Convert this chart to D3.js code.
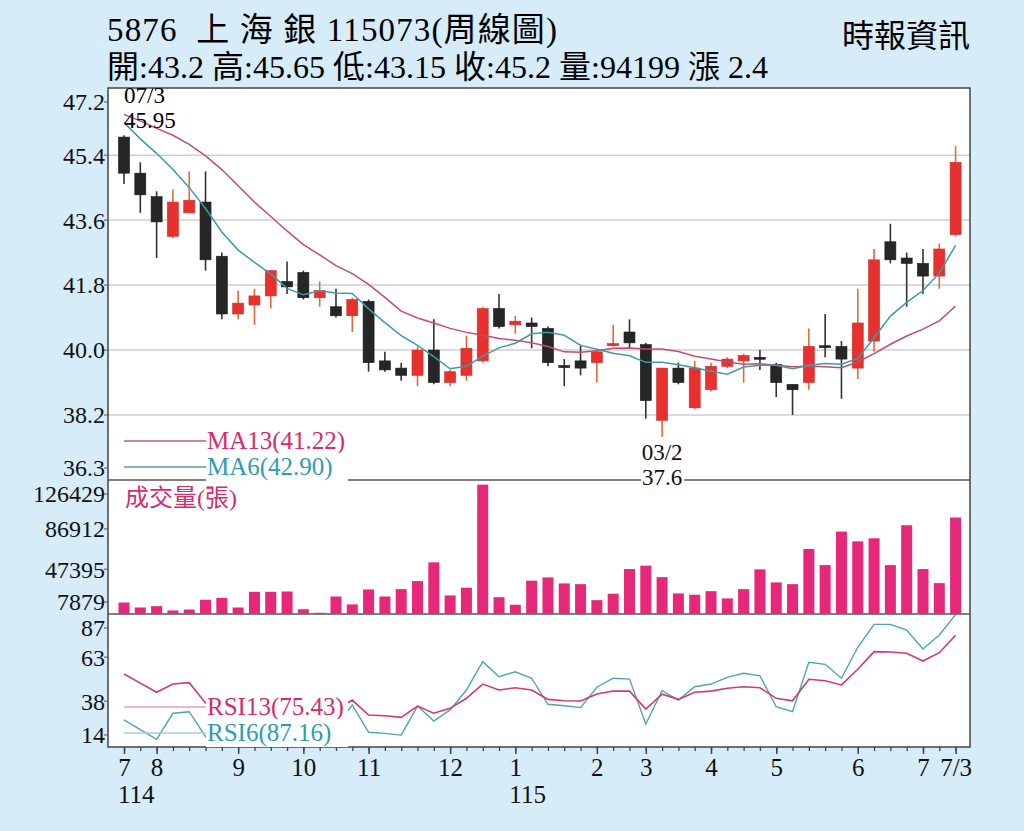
<!DOCTYPE html>
<html>
<head>
<meta charset="utf-8">
<script src="https://cdn.jsdelivr.net/npm/d3@7"></script>
<style>
  html, body { margin: 0; padding: 0; background: #d6ecf9; }
  svg { display: block; font-family: "Liberation Serif", "Noto Sans CJK TC", serif; }
</style>
</head>
<body>
<svg id="chart" width="1024" height="831"></svg>
<script>
// weekly candles, oldest first
const opens = [45.9, 44.9, 44.25, 43.15, 43.8, 44.1, 42.6, 41.0, 41.25, 41.5, 41.9, 42.15, 41.45, 41.2, 40.95, 41.35, 39.7, 39.5, 39.3, 40.0, 39.1, 39.3, 39.7, 41.15, 40.7, 40.75, 40.6, 39.57, 39.7, 39.65, 40.12, 40.5, 40.15, 38.05, 39.5, 38.4, 38.9, 39.55, 39.7, 39.8, 39.6, 39.05, 39.1, 40.12, 40.1, 39.5, 40.25, 43.0, 42.55, 42.4, 42.05, 43.2];
const highs = [45.95, 45.2, 44.4, 44.45, 44.95, 44.95, 42.7, 41.65, 41.7, 42.2, 42.45, 42.2, 41.9, 41.7, 41.45, 41.4, 39.95, 39.65, 40.1, 40.85, 39.45, 40.4, 41.2, 41.55, 40.95, 40.9, 40.65, 39.75, 40.15, 40.0, 40.7, 40.85, 40.2, 39.5, 39.65, 39.7, 39.65, 39.8, 39.9, 40.0, 39.65, 39.05, 40.6, 41.0, 40.25, 41.7, 42.8, 43.5, 42.7, 42.8, 42.95, 45.65];
const lows = [44.6, 43.8, 42.55, 43.1, 43.8, 42.2, 40.85, 40.85, 40.7, 41.15, 41.55, 41.4, 41.2, 40.9, 40.5, 39.4, 39.4, 39.15, 39.0, 39.05, 39.0, 39.15, 39.65, 40.6, 40.45, 40.05, 39.55, 39.0, 39.3, 39.1, 40.1, 40.05, 38.1, 37.6, 39.05, 38.35, 38.85, 39.5, 39.1, 39.45, 38.7, 38.2, 38.9, 39.8, 38.65, 39.2, 39.95, 42.4, 41.2, 41.55, 41.7, 43.15];
const closes = [44.9, 44.3, 43.55, 44.1, 44.15, 42.5, 41.0, 41.3, 41.5, 42.2, 41.75, 41.45, 41.65, 40.95, 41.4, 39.65, 39.45, 39.3, 40.0, 39.1, 39.4, 40.05, 41.15, 40.65, 40.8, 40.65, 39.65, 39.55, 39.5, 39.95, 40.18, 40.2, 38.6, 39.5, 39.1, 39.5, 39.55, 39.75, 39.85, 39.8, 39.1, 38.9, 40.1, 40.08, 39.75, 40.75, 42.5, 42.5, 42.4, 42.05, 42.8, 45.2];
const volumes = [10800, 5900, 7200, 3000, 3900, 13500, 15400, 5900, 21300, 21300, 21600, 4200, 700, 16700, 8900, 23600, 16700, 23900, 31800, 50200, 17700, 25300, 126429, 16000, 8600, 32200, 35400, 29500, 28800, 13100, 19400, 43600, 46900, 35700, 19700, 18400, 21900, 14800, 23900, 43300, 30500, 28800, 63300, 47500, 80400, 70800, 73800, 47500, 86600, 43600, 29800, 94199];
const ma6 = [46.3, 45.85, 45.45, 45.0, 44.5, 43.92, 43.27, 42.77, 42.43, 42.11, 41.71, 41.53, 41.64, 41.58, 41.57, 41.14, 40.76, 40.4, 40.13, 39.82, 39.48, 39.55, 39.83, 40.06, 40.19, 40.45, 40.49, 40.41, 40.13, 40.02, 39.91, 39.84, 39.66, 39.66, 39.59, 39.51, 39.41, 39.33, 39.53, 39.58, 39.58, 39.48, 39.58, 39.63, 39.61, 39.77, 40.34, 40.94, 41.32, 41.65, 42.13, 42.9];
const ma13 = [46.53, 46.35, 46.14, 45.95, 45.7, 45.38, 45.0, 44.55, 44.1, 43.7, 43.3, 42.92, 42.64, 42.34, 42.12, 41.82, 41.46, 41.08, 40.89, 40.75, 40.6, 40.49, 40.41, 40.32, 40.27, 40.2, 40.1, 39.95, 39.94, 39.98, 40.05, 40.06, 40.03, 40.03, 39.96, 39.83, 39.75, 39.67, 39.61, 39.62, 39.58, 39.54, 39.55, 39.54, 39.51, 39.67, 39.9, 40.16, 40.39, 40.58, 40.81, 41.22];
const rsi6 = [27.3, 21.8, 16.3, 31.1, 32.0, 17.8, 13.5, 18, 22, 36, 31, 24, 29, 24, 35.8, 20.3, 19.7, 18.7, 35.2, 26.7, 33.0, 44.3, 60.4, 51.9, 54.7, 51.0, 36.2, 35.4, 34.3, 45.9, 51.0, 50.5, 25.0, 43.9, 38.6, 46.2, 47.7, 51.5, 53.8, 52.4, 34.8, 32.0, 60.1, 58.9, 51.0, 68.6, 81.6, 81.6, 78.4, 67.6, 75.6, 87.16];
const rsi13 = [53.4, 48.2, 43.0, 47.7, 48.5, 37, 31, 33, 34, 39, 37, 35, 36, 33, 38.6, 30.1, 29.7, 28.8, 35.2, 31.1, 33.9, 39.6, 47.7, 44.3, 45.6, 44.3, 39.0, 38.2, 38.1, 42.0, 43.7, 43.7, 33.5, 41.9, 39.0, 43.0, 43.7, 45.3, 46.2, 45.6, 39.6, 38.2, 50.4, 49.6, 47.2, 56.1, 66.1, 65.9, 65.2, 60.8, 65.5, 75.43];

const monthTickIndex = [0, 2, 7, 11, 15, 20, 24, 29, 32, 36, 40, 45, 49, 51];
const monthTickLabels = ["7", "8", "9", "10", "11", "12", "1", "2", "3", "4", "5", "6", "7", "7/3"];
const yearTickIndex = [0, 24];
const yearTickLabels = ["114", "115"];

const priceTicks = [47.2, 45.4, 43.6, 41.8, 40.0, 38.2, 36.3];
const volumeTicks = [126429, 86912, 47395, 7879];
const rsiTicks = [87, 63, 38, 14];

const titleText = "5876  上 海 銀 115073(周線圖)";
const quoteText = "開:43.2 高:45.65 低:43.15 收:45.2 量:94199 漲 2.4";
const sourceText = "時報資訊";
const highMark = { index: 0, date: "07/3", value: 45.95 };
const lowMark = { index: 33, date: "03/2", value: 37.6 };

const RED = "#e8302e";
const BLACK = "#262626";
const PINK = "#d22d6c";
const TEAL = "#2f9bb3";

const frame = { left: 108, right: 970, top: 88, bottom: 747 };
const priceBottom = 480;
const volumeBottom = 614;

const svg = d3.select("#chart");

const x = d3
  .scaleLinear()
  .domain([0, closes.length - 1])
  .range([124, 955.6]);
const yPrice = d3.scaleLinear().domain([36.4, 47.26]).range([priceBottom, frame.top]);
const yVolume = d3.scaleLinear().domain([0, 131000]).range([613.5, priceBottom]);
const yRsi = d3.scaleLinear().domain([12.5, 87.5]).range([746, volumeBottom]);

const weeks = closes.map((close, i) => ({
  i,
  open: opens[i],
  high: highs[i],
  low: lows[i],
  close,
  up: close > opens[i],
}));

// header
svg
  .append("text")
  .attr("x", 107)
  .attr("y", 41)
  .attr("font-size", 33)
  .attr("textLength", 450)
  .attr("lengthAdjust", "spacing")
  .style("white-space", "pre")
  .text(titleText);
svg
  .append("text")
  .attr("x", 107)
  .attr("y", 78)
  .attr("font-size", 32)
  .attr("textLength", 661)
  .attr("lengthAdjust", "spacing")
  .text(quoteText);
svg
  .append("text")
  .attr("x", 970)
  .attr("y", 47)
  .attr("text-anchor", "end")
  .attr("font-size", 32)
  .text(sourceText);

// plot background + clip
svg
  .append("rect")
  .attr("x", frame.left)
  .attr("y", frame.top)
  .attr("width", frame.right - frame.left)
  .attr("height", frame.bottom - frame.top)
  .attr("fill", "#fff");

const defs = svg.append("defs");
defs
  .append("clipPath")
  .attr("id", "clip-volume")
  .append("rect")
  .attr("x", frame.left)
  .attr("y", priceBottom)
  .attr("width", frame.right - frame.left)
  .attr("height", volumeBottom - priceBottom);

// price gridlines
svg
  .append("g")
  .selectAll("line")
  .data(priceTicks.slice(1, -1))
  .join("line")
  .attr("x1", frame.left)
  .attr("x2", frame.right)
  .attr("y1", (d) => yPrice(d))
  .attr("y2", (d) => yPrice(d))
  .attr("stroke", "#cfcfcf")
  .attr("stroke-width", 1.5);

// candles
const candle = svg.append("g").selectAll("g").data(weeks).join("g");
candle
  .append("line")
  .attr("x1", (d) => x(d.i))
  .attr("x2", (d) => x(d.i))
  .attr("y1", (d) => yPrice(d.high))
  .attr("y2", (d) => yPrice(d.low))
  .attr("stroke", (d) => (d.up ? "#e4683c" : "#333"))
  .attr("stroke-width", 1.6);
candle
  .append("rect")
  .attr("x", (d) => x(d.i) - 5.5)
  .attr("width", 11)
  .attr("y", (d) => yPrice(Math.max(d.open, d.close)))
  .attr("height", (d) => Math.max(2, Math.abs(yPrice(d.open) - yPrice(d.close))))
  .attr("fill", (d) => (d.up ? RED : BLACK))
  .attr("stroke", (d) => (d.up ? "#c9302a" : "#1a1a1a"))
  .attr("stroke-width", 0.6);

// moving averages
const priceLine = d3
  .line()
  .x((d, i) => x(i))
  .y((d) => yPrice(d));
svg
  .append("path")
  .attr("d", priceLine(ma13))
  .attr("fill", "none")
  .attr("stroke", "#c24d72")
  .attr("stroke-width", 1.5);
svg
  .append("path")
  .attr("d", priceLine(ma6))
  .attr("fill", "none")
  .attr("stroke", "#3f9aa8")
  .attr("stroke-width", 1.5);

// volume bars
svg
  .append("g")
  .attr("clip-path", "url(#clip-volume)")
  .selectAll("rect")
  .data(volumes)
  .join("rect")
  .attr("x", (d, i) => x(i) - 5.5)
  .attr("width", 11)
  .attr("y", (d) => yVolume(d))
  .attr("height", (d) => yVolume(0) - yVolume(d))
  .attr("fill", "#e6287a");

// rsi lines
const rsiLine = d3
  .line()
  .x((d, i) => x(i))
  .y((d) => yRsi(d));
svg
  .append("path")
  .attr("d", rsiLine(rsi6))
  .attr("fill", "none")
  .attr("stroke", "#4da5ad")
  .attr("stroke-width", 1.4);
svg
  .append("path")
  .attr("d", rsiLine(rsi13))
  .attr("fill", "none")
  .attr("stroke", "#d23a6c")
  .attr("stroke-width", 1.6);

// panel separators and frame
svg
  .append("g")
  .selectAll("line")
  .data([priceBottom, volumeBottom])
  .join("line")
  .attr("x1", frame.left)
  .attr("x2", frame.right)
  .attr("y1", (d) => d)
  .attr("y2", (d) => d)
  .attr("stroke", "#555")
  .attr("stroke-width", 1.5);
svg
  .append("rect")
  .attr("x", frame.left)
  .attr("y", frame.top)
  .attr("width", frame.right - frame.left)
  .attr("height", frame.bottom - frame.top)
  .attr("fill", "none")
  .attr("stroke", "#444")
  .attr("stroke-width", 1.5);

// text with a white box behind it
function boxedText(g, px, py, str, opts = {}) {
  const t = g
    .append("text")
    .attr("x", px)
    .attr("y", py)
    .attr("font-size", opts.size || 24)
    .attr("fill", opts.color || "#111")
    .attr("text-anchor", opts.anchor || "start")
    .text(str);
  const b = t.node().getBBox();
  const trim = opts.trim || 0;
  g.insert("rect", () => t.node())
    .attr("x", b.x - 1)
    .attr("y", b.y + trim)
    .attr("width", Math.max(b.width + 3, opts.minWidth || 0))
    .attr("height", b.height - trim)
    .attr("fill", "#fff");
  return t;
}

function legendItem(y, lineColor, textColor, label) {
  const g = svg.append("g");
  g.append("line")
    .attr("x1", 124)
    .attr("x2", 207)
    .attr("y1", y)
    .attr("y2", y)
    .attr("stroke", lineColor)
    .attr("stroke-width", 1.3);
  boxedText(g, 207, y + 8, label, { color: textColor, size: 25, minWidth: 142 });
}

legendItem(441, "#c85a80", PINK, `MA13(${ma13[ma13.length - 1].toFixed(2)})`);
legendItem(467, "#4f9ea9", TEAL, `MA6(${ma6[ma6.length - 1].toFixed(2)})`);
legendItem(707, "#e2a4b6", PINK, `RSI13(${rsi13[rsi13.length - 1].toFixed(2)})`);
legendItem(733, "#a9ccd0", TEAL, `RSI6(${rsi6[rsi6.length - 1].toFixed(2)})`);

svg
  .append("text")
  .attr("x", 125)
  .attr("y", 506)
  .attr("font-size", 24)
  .attr("fill", PINK)
  .text("成交量(張)");

// high / low marks
const marks = svg.append("g");
marks
  .append("text")
  .attr("x", x(highMark.index))
  .attr("y", yPrice(highMark.value) - 32)
  .attr("font-size", 23)
  .text(highMark.date);
marks
  .append("text")
  .attr("x", x(highMark.index))
  .attr("y", yPrice(highMark.value) - 7)
  .attr("font-size", 23)
  .text(highMark.value);
boxedText(marks, x(lowMark.index), yPrice(lowMark.value) + 23, lowMark.date, { anchor: "middle", size: 23, trim: 4 });
boxedText(marks, x(lowMark.index), yPrice(lowMark.value) + 48, lowMark.value, { anchor: "middle", size: 23, trim: 4 });

// left labels, edge values pulled inside their panel
function yLabels(values, scale, top, bottom, fmt) {
  const g = svg.append("g").attr("font-size", 24).attr("fill", "#111");
  const pos = (d) => Math.max(top + 14, Math.min(bottom - 12, scale(d)));
  g.selectAll("line")
    .data(values)
    .join("line")
    .attr("x1", frame.left - 4)
    .attr("x2", frame.left)
    .attr("y1", pos)
    .attr("y2", pos)
    .attr("stroke", "#555");
  g.selectAll("text")
    .data(values)
    .join("text")
    .attr("x", frame.left - 3)
    .attr("y", pos)
    .attr("dy", "0.35em")
    .attr("text-anchor", "end")
    .text(fmt);
}

yLabels(priceTicks, yPrice, frame.top, priceBottom, (d) => d.toFixed(1));
yLabels(volumeTicks, (d) => yVolume(d) + 4, priceBottom, volumeBottom, (d) => d);
yLabels(rsiTicks, yRsi, volumeBottom, frame.bottom, (d) => d);

// bottom axis: weekly minor ticks, monthly labels
svg
  .append("g")
  .attr("transform", `translate(0,${frame.bottom})`)
  .call(d3.axisBottom(x).tickValues(d3.range(closes.length)).tickSize(4).tickFormat(""))
  .call((g) => g.select(".domain").remove())
  .call((g) => g.selectAll("line").attr("stroke", "#444").attr("stroke-width", 1.3));
svg
  .append("g")
  .attr("transform", `translate(0,${frame.bottom})`)
  .call(
    d3
      .axisBottom(x)
      .tickValues(monthTickIndex)
      .tickSize(7)
      .tickPadding(4)
      .tickFormat((d, k) => monthTickLabels[k]),
  )
  .call((g) => g.select(".domain").remove())
  .call((g) => g.selectAll("line").attr("stroke", "#444").attr("stroke-width", 1.5))
  .call((g) =>
    g
      .selectAll("text")
      .attr("font-family", "Liberation Serif, serif")
      .attr("font-size", 25)
      .attr("fill", "#111"),
  );

svg
  .append("g")
  .selectAll("text")
  .data(yearTickIndex)
  .join("text")
  .attr("x", (d) => x(d) - 6)
  .attr("y", 803)
  .attr("font-size", 25)
  .attr("fill", "#111")
  .text((d, k) => yearTickLabels[k]);
</script>
</body>
</html>
